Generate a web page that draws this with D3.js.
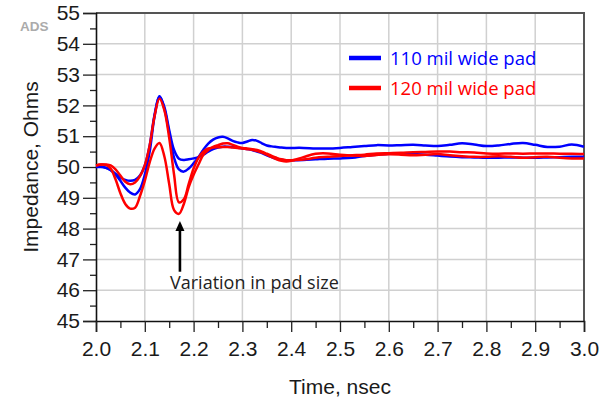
<!DOCTYPE html>
<html>
<head>
<meta charset="utf-8">
<script src="https://cdn.jsdelivr.net/npm/d3@7/dist/d3.min.js"></script>
<style>
  html, body { margin: 0; padding: 0; background: #fff; }
  svg { display: block; }
</style>
</head>
<body>
<svg id="chart" width="610" height="399"></svg>
<script>
// Time samples (nsec): fine steps through the discontinuity, coarser afterwards
const time = [
  2.00, 2.01, 2.02, 2.03, 2.04, 2.05, 2.06, 2.07, 2.08, 2.09,
  2.10, 2.11, 2.12, 2.13, 2.14, 2.15, 2.16, 2.17, 2.18, 2.19,
  2.20, 2.21, 2.22, 2.23, 2.24, 2.25, 2.26, 2.27, 2.28, 2.29,
  2.30, 2.31, 2.32, 2.33, 2.34, 2.35, 2.36, 2.37, 2.38, 2.39, 2.40,
  2.425, 2.45, 2.475, 2.50, 2.525, 2.55, 2.575, 2.60, 2.625, 2.65,
  2.675, 2.70, 2.725, 2.75, 2.775, 2.80, 2.825, 2.85, 2.875, 2.90,
  2.925, 2.95, 2.975, 3.00
];

// 110 mil wide pad, two pad-size variants (Ohms)
const pad110a = [
  50.00, 50.00, 49.97, 49.90, 49.75, 49.55, 49.33, 49.17, 49.11, 49.28,
  49.75, 50.50, 51.65, 52.30, 51.90, 51.10, 50.30, 49.92, 49.85, 49.95,
  50.12, 50.32, 50.56, 50.76, 50.89, 50.96, 50.98, 50.93, 50.85, 50.80,
  50.78, 50.83, 50.88, 50.85, 50.77, 50.70, 50.67, 50.65, 50.63, 50.62, 50.62,
  50.62, 50.60, 50.60, 50.62, 50.65, 50.68, 50.71, 50.70, 50.71, 50.72,
  50.70, 50.68, 50.72, 50.77, 50.73, 50.68, 50.70, 50.75, 50.78, 50.72,
  50.65, 50.66, 50.73, 50.66
];
const pad110b = [
  50.00, 50.02, 49.98, 49.90, 49.78, 49.66, 49.58, 49.55, 49.58, 49.72,
  50.05, 50.70, 51.70, 52.30, 51.95, 51.20, 50.55, 50.27, 50.23, 50.25,
  50.28, 50.32, 50.40, 50.50, 50.58, 50.63, 50.66, 50.66, 50.65, 50.63,
  50.60, 50.58, 50.55, 50.50, 50.45, 50.38, 50.32, 50.27, 50.24, 50.22, 50.22,
  50.23, 50.25, 50.27, 50.28, 50.30, 50.36, 50.40, 50.43, 50.44, 50.42,
  50.40, 50.37, 50.34, 50.32, 50.31, 50.30, 50.30, 50.31, 50.30, 50.30,
  50.31, 50.32, 50.33, 50.33
];

// 120 mil wide pad, two pad-size variants (Ohms)
const pad120a = [
  50.05, 50.08, 50.08, 50.05, 49.92, 49.72, 49.52, 49.44, 49.50, 49.70,
  50.05, 50.70, 51.65, 52.22, 51.85, 50.95, 49.75, 48.85, 48.95, 49.45,
  49.95, 50.30, 50.50, 50.60, 50.63, 50.64, 50.65, 50.65, 50.63, 50.62,
  50.60, 50.58, 50.56, 50.52, 50.47, 50.40, 50.32, 50.25, 50.20, 50.18, 50.20,
  50.32, 50.43, 50.44, 50.40, 50.37, 50.36, 50.39, 50.41, 50.40, 50.38,
  50.40, 50.42, 50.38, 50.35, 50.33, 50.33, 50.35, 50.33, 50.30, 50.32,
  50.33, 50.30, 50.28, 50.28
];
const pad120b = [
  50.05, 50.08, 50.07, 49.95, 49.60, 49.15, 48.80, 48.65, 48.68, 49.05,
  49.55, 50.15, 50.60, 50.78, 50.35, 49.45, 48.60, 48.48, 48.80, 49.35,
  49.75, 50.08, 50.40, 50.55, 50.65, 50.71, 50.76, 50.77, 50.72, 50.66,
  50.62, 50.60, 50.58, 50.55, 50.50, 50.43, 50.36, 50.30, 50.25, 50.22, 50.22,
  50.24, 50.30, 50.33, 50.36, 50.38, 50.40, 50.44, 50.45, 50.46, 50.48,
  50.49, 50.50, 50.50, 50.48, 50.47, 50.44, 50.43, 50.44, 50.43, 50.44,
  50.44, 50.43, 50.43, 50.42
];

const xTicks = [2.0, 2.1, 2.2, 2.3, 2.4, 2.5, 2.6, 2.7, 2.8, 2.9, 3.0];
const yTicks = [45, 46, 47, 48, 49, 50, 51, 52, 53, 54, 55];
const legendLabels = ["110 mil wide pad", "120 mil wide pad"];
const legendColors = ["#0000ff", "#ff0000"];

// annotation: arrow at the second dip
const noteText = "Variation in pad size";
const arrowTime = 2.172;
const arrowFrom = 46.6;
const arrowTo = 48.25;

const series = [
  { name: "110a", color: "#0000ff", values: pad110a },
  { name: "110b", color: "#0000ff", values: pad110b },
  { name: "120a", color: "#ff0000", values: pad120a },
  { name: "120b", color: "#ff0000", values: pad120b }
];

const svg = d3.select("#chart");
const plotLeft = 96, plotRight = 584, plotTop = 13, plotBottom = 321;

const x = d3.scaleLinear().domain([2.0, 3.0]).range([plotLeft, plotRight]);
const y = d3.scaleLinear().domain([45, 55]).range([plotBottom, plotTop]);

const axisFont = "'Liberation Sans', Arial, sans-serif";
const noteFont = "'Open Sans', 'Noto Sans', sans-serif";

// grid
const grid = svg.append("g").attr("stroke", "#d0d0d0").attr("stroke-width", 1.5);
grid.selectAll("line.v").data(xTicks.slice(1, -1)).join("line")
  .attr("class", "v")
  .attr("x1", d => x(d)).attr("x2", d => x(d))
  .attr("y1", plotTop).attr("y2", plotBottom);
grid.selectAll("line.h").data(yTicks.slice(1, -1)).join("line")
  .attr("class", "h")
  .attr("x1", plotLeft).attr("x2", plotRight)
  .attr("y1", d => y(d)).attr("y2", d => y(d));

// frame (top and right)
svg.append("path")
  .attr("d", `M${plotLeft},${plotTop}H${plotRight}V${plotBottom}`)
  .attr("fill", "none").attr("stroke", "#555").attr("stroke-width", 2);

// minor ticks
const yMinor = d3.range(45.5, 55, 1);
const xMinor = d3.range(2.05, 3.0, 0.1);
svg.append("g").attr("transform", `translate(${plotLeft},0)`)
  .call(d3.axisLeft(y).tickValues(yMinor).tickSize(6).tickFormat(""))
  .call(g => g.select(".domain").remove())
  .call(g => g.selectAll("line").attr("stroke", "#222").attr("stroke-width", 1.3));
svg.append("g").attr("transform", `translate(0,${plotBottom})`)
  .call(d3.axisBottom(x).tickValues(xMinor).tickSize(7).tickFormat(""))
  .call(g => g.select(".domain").remove())
  .call(g => g.selectAll("line").attr("stroke", "#222").attr("stroke-width", 1.3));

// major axes
const yAxis = svg.append("g").attr("transform", `translate(${plotLeft},0)`)
  .call(d3.axisLeft(y).tickValues(yTicks).tickSize(13).tickPadding(3).tickFormat(d3.format("d")));
const xAxis = svg.append("g").attr("transform", `translate(0,${plotBottom})`)
  .call(d3.axisBottom(x).tickValues(xTicks).tickSize(11).tickPadding(9).tickFormat(d3.format(".1f")));
[yAxis, xAxis].forEach(g => {
  g.select(".domain").attr("stroke", "#111").attr("stroke-width", 1.6);
  g.selectAll(".tick line").attr("stroke", "#222").attr("stroke-width", 1.3);
  g.selectAll(".tick text").attr("font-family", axisFont).attr("font-size", 21).attr("fill", "#1a1a1a");
});

// curves
const line = d3.line()
  .x((d, i) => x(time[i]))
  .y(d => y(d))
  .curve(d3.curveCatmullRom.alpha(0.5));

svg.append("g")
  .selectAll("path")
  .data(series)
  .join("path")
  .attr("d", d => line(d.values))
  .attr("fill", "none")
  .attr("stroke", d => d.color)
  .attr("stroke-width", 2.5)
  .attr("stroke-linejoin", "round");

// axis titles
svg.append("text")
  .attr("x", (plotLeft + plotRight) / 2).attr("y", 394)
  .attr("text-anchor", "middle")
  .attr("font-family", axisFont).attr("font-size", 21).attr("fill", "#1a1a1a")
  .text("Time, nsec");
svg.append("text")
  .attr("transform", `translate(38,${(plotTop + plotBottom) / 2}) rotate(-90)`)
  .attr("text-anchor", "middle")
  .attr("font-family", axisFont).attr("font-size", 21).attr("fill", "#1a1a1a")
  .text("Impedance, Ohms");

// tool mark
svg.append("text")
  .attr("x", 20).attr("y", 31)
  .attr("font-family", axisFont).attr("font-size", 13.5).attr("font-weight", "bold")
  .attr("fill", "#ababab")
  .text("ADS");

// legend
const legend = svg.append("g").selectAll("g")
  .data(legendLabels)
  .join("g")
  .attr("transform", (d, i) => `translate(349,${58 + i * 30})`);
legend.append("line")
  .attr("x1", 0).attr("x2", 32).attr("y1", 0).attr("y2", 0)
  .attr("stroke", (d, i) => legendColors[i]).attr("stroke-width", 4.5);
legend.append("text")
  .attr("x", 41).attr("y", 7)
  .attr("font-family", noteFont).attr("font-size", 18.5)
  .attr("fill", (d, i) => legendColors[i])
  .text(d => d);

// annotation arrow and label
const ax = x(arrowTime);
svg.append("line")
  .attr("x1", ax).attr("x2", ax)
  .attr("y1", y(arrowFrom)).attr("y2", y(arrowTo) + 8)
  .attr("stroke", "#000").attr("stroke-width", 2.6);
svg.append("path")
  .attr("d", `M${ax},${y(arrowTo)}L${ax - 4.5},${y(arrowTo) + 10}L${ax + 4.5},${y(arrowTo) + 10}Z`)
  .attr("fill", "#000");
svg.append("text")
  .attr("x", 170).attr("y", 289)
  .attr("font-family", noteFont).attr("font-size", 18).attr("fill", "#222")
  .text(noteText);
</script>
</body>
</html>
